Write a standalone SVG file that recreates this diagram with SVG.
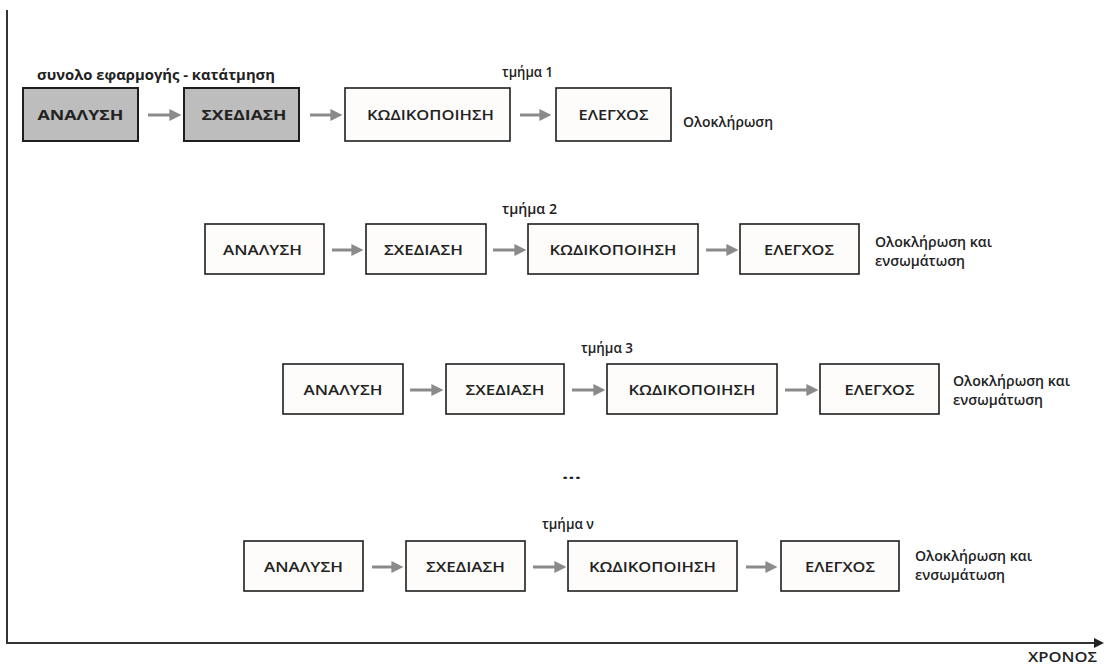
<svg xmlns="http://www.w3.org/2000/svg" width="1110" height="666" viewBox="0 0 1110 666">
<defs>
<marker id="ah" markerWidth="4" markerHeight="4" refX="2.2" refY="2" orient="auto" markerUnits="strokeWidth"><path d="M0,0 L4,2 L0,4 Z" fill="#8a8a8a"/></marker>
<marker id="axh" markerWidth="5" markerHeight="5" refX="3" refY="2.5" orient="auto" markerUnits="strokeWidth"><path d="M0,0 L5,2.5 L0,5 Z" fill="#222"/></marker>
<style>
.box{fill:#fdfcfa;stroke:#1e1e1e;stroke-width:1.6}
.gbox{fill:#bdbdbd;stroke:#1e1e1e;stroke-width:2}
text{font-family:"Open Sans","Liberation Sans",sans-serif;fill:#222}
.bt{font-size:15px;font-weight:600;text-anchor:middle}
.bb{font-size:15px;font-weight:bold;text-anchor:middle}
.lb{font-size:14px;font-weight:600}
.lbb{font-size:14px;font-weight:bold}
.conn{stroke:#8a8a8a;stroke-width:3;fill:none;marker-end:url(#ah)}
.axis{stroke:#333;stroke-width:2;fill:none}
</style>
</defs>
<g id="axes">
<line class="axis" x1="7" y1="10" x2="7" y2="643"/>
<line class="axis" x1="6" y1="643" x2="1100" y2="643" marker-end="url(#axh)"/>
<text class="lb" x="1028" y="662" textLength="69" lengthAdjust="spacingAndGlyphs">ΧΡΟΝΟΣ</text>
</g>
<g id="labels">
<text class="lbb" x="37" y="80" textLength="238" lengthAdjust="spacingAndGlyphs">συνολο εφαρμογής - κατάτμηση</text>
<text class="lb" x="502" y="77" textLength="51" lengthAdjust="spacingAndGlyphs">τμήμα 1</text>
<text class="lb" x="683" y="127" textLength="90" lengthAdjust="spacingAndGlyphs">Ολοκλήρωση</text>
<text class="lb" x="502" y="214" textLength="55" lengthAdjust="spacingAndGlyphs">τμήμα 2</text>
<text class="lb" x="875" y="247" textLength="117" lengthAdjust="spacingAndGlyphs">Ολοκλήρωση και</text>
<text class="lb" x="875" y="266" textLength="90" lengthAdjust="spacingAndGlyphs">ενσωμάτωση</text>
<text class="lb" x="581" y="353" textLength="52" lengthAdjust="spacingAndGlyphs">τμήμα 3</text>
<text class="lb" x="953" y="386" textLength="117" lengthAdjust="spacingAndGlyphs">Ολοκλήρωση και</text>
<text class="lb" x="953" y="405" textLength="90" lengthAdjust="spacingAndGlyphs">ενσωμάτωση</text>
<text class="lbb" x="562" y="479" textLength="19" lengthAdjust="spacingAndGlyphs">...</text>
<text class="lb" x="542" y="529" textLength="52" lengthAdjust="spacingAndGlyphs">τμήμα ν</text>
<text class="lb" x="915" y="561" textLength="117" lengthAdjust="spacingAndGlyphs">Ολοκλήρωση και</text>
<text class="lb" x="915" y="580" textLength="90" lengthAdjust="spacingAndGlyphs">ενσωμάτωση</text>
</g>
<g id="r1-analysh"><rect class="gbox" x="23" y="88" width="115" height="53"/><text class="bb" x="80.5" y="120" textLength="86" lengthAdjust="spacingAndGlyphs">ΑΝΑΛΥΣΗ</text></g>
<g id="r1-sxediash"><rect class="gbox" x="184" y="88" width="115" height="53"/><text class="bb" x="244" y="120" textLength="85" lengthAdjust="spacingAndGlyphs">ΣΧΕΔΙΑΣΗ</text></g>
<g id="r1-kod"><rect class="box" x="345" y="88" width="165" height="53"/><text class="bt" x="430.5" y="120" textLength="127" lengthAdjust="spacingAndGlyphs">ΚΩΔΙΚΟΠΟΙΗΣΗ</text></g>
<g id="r1-elegxos"><rect class="box" x="556" y="88" width="115" height="53"/><text class="bt" x="613.5" y="120" textLength="70" lengthAdjust="spacingAndGlyphs">ΕΛΕΓΧΟΣ</text></g>
<g id="r2-analysh"><rect class="box" x="205" y="224" width="119" height="50"/><text class="bt" x="262.5" y="255" textLength="79" lengthAdjust="spacingAndGlyphs">ΑΝΑΛΥΣΗ</text></g>
<g id="r2-sxediash"><rect class="box" x="366" y="224" width="120" height="50"/><text class="bt" x="423.5" y="255" textLength="79" lengthAdjust="spacingAndGlyphs">ΣΧΕΔΙΑΣΗ</text></g>
<g id="r2-kod"><rect class="box" x="528" y="224" width="170" height="50"/><text class="bt" x="613" y="255" textLength="127" lengthAdjust="spacingAndGlyphs">ΚΩΔΙΚΟΠΟΙΗΣΗ</text></g>
<g id="r2-elegxos"><rect class="box" x="740" y="224" width="119" height="50"/><text class="bt" x="799" y="255" textLength="70" lengthAdjust="spacingAndGlyphs">ΕΛΕΓΧΟΣ</text></g>
<g id="r3-analysh"><rect class="box" x="283" y="364" width="120" height="50"/><text class="bt" x="343" y="395" textLength="79" lengthAdjust="spacingAndGlyphs">ΑΝΑΛΥΣΗ</text></g>
<g id="r3-sxediash"><rect class="box" x="446" y="364" width="118" height="50"/><text class="bt" x="505" y="395" textLength="79" lengthAdjust="spacingAndGlyphs">ΣΧΕΔΙΑΣΗ</text></g>
<g id="r3-kod"><rect class="box" x="607" y="364" width="170" height="50"/><text class="bt" x="692" y="395" textLength="127" lengthAdjust="spacingAndGlyphs">ΚΩΔΙΚΟΠΟΙΗΣΗ</text></g>
<g id="r3-elegxos"><rect class="box" x="820" y="364" width="119" height="50"/><text class="bt" x="879.5" y="395" textLength="70" lengthAdjust="spacingAndGlyphs">ΕΛΕΓΧΟΣ</text></g>
<g id="r4-analysh"><rect class="box" x="244" y="541" width="119" height="50"/><text class="bt" x="303.5" y="572" textLength="79" lengthAdjust="spacingAndGlyphs">ΑΝΑΛΥΣΗ</text></g>
<g id="r4-sxediash"><rect class="box" x="406" y="541" width="119" height="50"/><text class="bt" x="465.5" y="572" textLength="79" lengthAdjust="spacingAndGlyphs">ΣΧΕΔΙΑΣΗ</text></g>
<g id="r4-kod"><rect class="box" x="568" y="541" width="169" height="50"/><text class="bt" x="652.5" y="572" textLength="127" lengthAdjust="spacingAndGlyphs">ΚΩΔΙΚΟΠΟΙΗΣΗ</text></g>
<g id="r4-elegxos"><rect class="box" x="781" y="541" width="118" height="50"/><text class="bt" x="840" y="572" textLength="70" lengthAdjust="spacingAndGlyphs">ΕΛΕΓΧΟΣ</text></g>
<g id="connectors">
<line class="conn" x1="148" y1="115" x2="176" y2="115"/>
<line class="conn" x1="310" y1="115" x2="337" y2="115"/>
<line class="conn" x1="520" y1="115" x2="546" y2="115"/>
<line class="conn" x1="332" y1="250" x2="358" y2="250"/>
<line class="conn" x1="493" y1="250" x2="521" y2="250"/>
<line class="conn" x1="706" y1="250" x2="733" y2="250"/>
<line class="conn" x1="410" y1="390" x2="438" y2="390"/>
<line class="conn" x1="572" y1="390" x2="600" y2="390"/>
<line class="conn" x1="785" y1="390" x2="813" y2="390"/>
<line class="conn" x1="372" y1="567" x2="398" y2="567"/>
<line class="conn" x1="533" y1="567" x2="561" y2="567"/>
<line class="conn" x1="746" y1="567" x2="772" y2="567"/>
</g>
</svg>
